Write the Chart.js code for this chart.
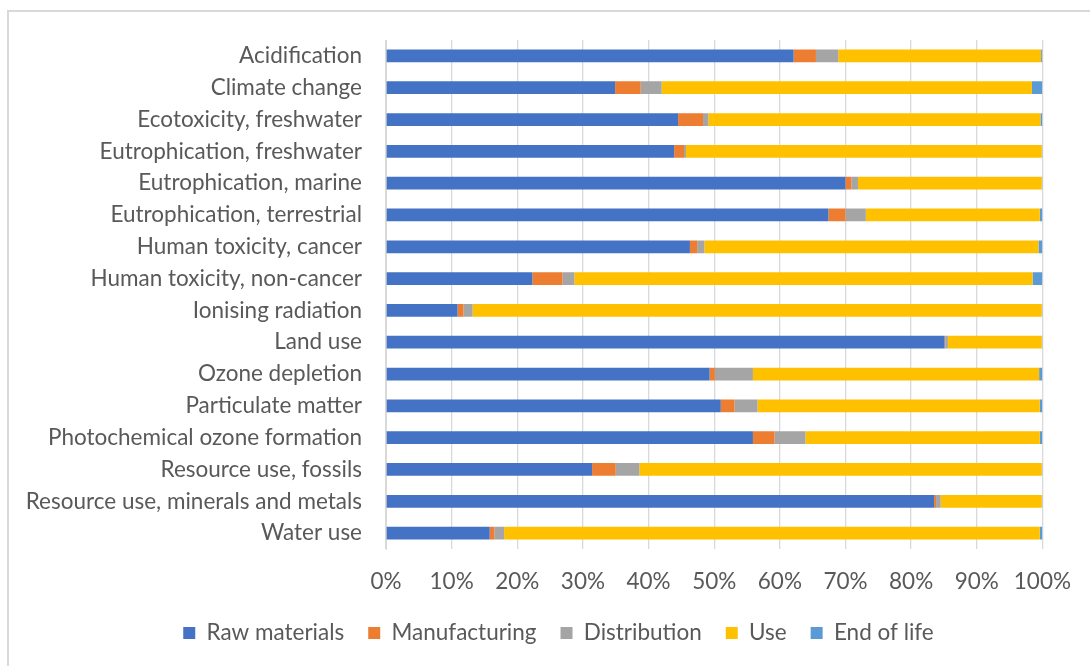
<!DOCTYPE html>
<html>
<head>
<meta charset="utf-8">
<script src="https://cdn.jsdelivr.net/npm/chart.js@4"></script>
<style>
  body { margin: 0; background: #fff; overflow: hidden; }
  #wrap { position: relative; width: 1090px; height: 666px; }
  #frame { position: absolute; left: 7px; top: 10px; width: 1200px; height: 800px; border: 2px solid #D9D9D9; box-sizing: border-box; }
  canvas { position: absolute; left: 0; top: 0; }
</style>
</head>
<body>
<div id="wrap">
  <div id="frame"></div>
  <canvas id="myChart" width="1090" height="666"></canvas>
</div>
<script>
const categories = ['Acidification', 'Climate change', 'Ecotoxicity, freshwater', 'Eutrophication, freshwater',
  'Eutrophication, marine', 'Eutrophication, terrestrial', 'Human toxicity, cancer', 'Human toxicity, non-cancer',
  'Ionising radiation', 'Land use', 'Ozone depletion', 'Particulate matter', 'Photochemical ozone formation',
  'Resource use, fossils', 'Resource use, minerals and metals', 'Water use'];

const rawMaterials  = [62.1, 34.9, 44.5, 43.9, 70.0, 67.4, 46.3, 22.3, 10.9, 85.1, 49.3, 51.0, 55.9, 31.4, 83.5, 15.8];
const manufacturing = [3.4, 3.9, 3.8, 1.5, 0.9, 2.6, 1.1, 4.6, 0.9, 0.1, 0.8, 2.1, 3.3, 3.6, 0.3, 0.7];
const distribution  = [3.4, 3.2, 0.8, 0.3, 1.0, 3.1, 1.1, 1.8, 1.4, 0.4, 5.8, 3.5, 4.7, 3.6, 0.7, 1.5];
const use           = [30.9, 56.4, 50.6, 54.2, 28.0, 26.5, 50.9, 69.8, 86.7, 14.3, 43.6, 43.0, 35.7, 61.3, 15.4, 81.6];
const endOfLife     = [0.2, 1.6, 0.3, 0.1, 0.1, 0.4, 0.6, 1.5, 0.1, 0.1, 0.5, 0.4, 0.4, 0.1, 0.1, 0.4];

const tickValues = [0, 10, 20, 30, 40, 50, 60, 70, 80, 90, 100];

const textColor = '#595959';
const font = { family: 'Lato', size: 22.5 };

// nudge the legend to the right so it sits centred like the original
const legendShift = {
  id: 'legendShift',
  afterLayout(chart) {
    chart.legend.left += 36;
    chart.legend.right += 36;
  }
};

const ctx = document.getElementById('myChart').getContext('2d');

new Chart(ctx, {
  type: 'bar',
  data: {
    labels: categories,
    datasets: [
      { label: 'Raw materials', data: rawMaterials, backgroundColor: '#4472C4' },
      { label: 'Manufacturing', data: manufacturing, backgroundColor: '#ED7D31' },
      { label: 'Distribution', data: distribution, backgroundColor: '#A5A5A5' },
      { label: 'Use', data: use, backgroundColor: '#FFC000' },
      { label: 'End of life', data: endOfLife, backgroundColor: '#5B9BD5' },
    ]
  },
  options: {
    indexAxis: 'y',
    responsive: false,
    animation: false,
    barPercentage: 0.4,
    categoryPercentage: 1,
    layout: { padding: { top: 40, right: 45, left: 0, bottom: 11.75 } },
    scales: {
      x: {
        stacked: true,
        min: 0,
        max: 100,
        afterBuildTicks: (scale) => { scale.ticks = tickValues.map(v => ({ value: v })); },
        afterFit: (scale) => { scale.height = 48.75; },
        grid: { color: '#D9D9D9', lineWidth: 1.3, drawTicks: false },
        border: { display: false },
        ticks: { color: textColor, font: font, padding: 19, maxRotation: 0,
                 callback: (v) => v + '%' }
      },
      y: {
        stacked: true,
        afterFit: (scale) => { scale.width = 386; },
        grid: { display: false },
        border: { color: '#D9D9D9' },
        ticks: { color: textColor, font: font, padding: 16 }
      }
    },
    plugins: {
      tooltip: { enabled: false },
      legend: {
        position: 'bottom',
        labels: { color: textColor, font: font, boxWidth: 12, boxHeight: 12, padding: 24 }
      }
    }
  },
  plugins: [legendShift]
});
</script>
</body>
</html>
